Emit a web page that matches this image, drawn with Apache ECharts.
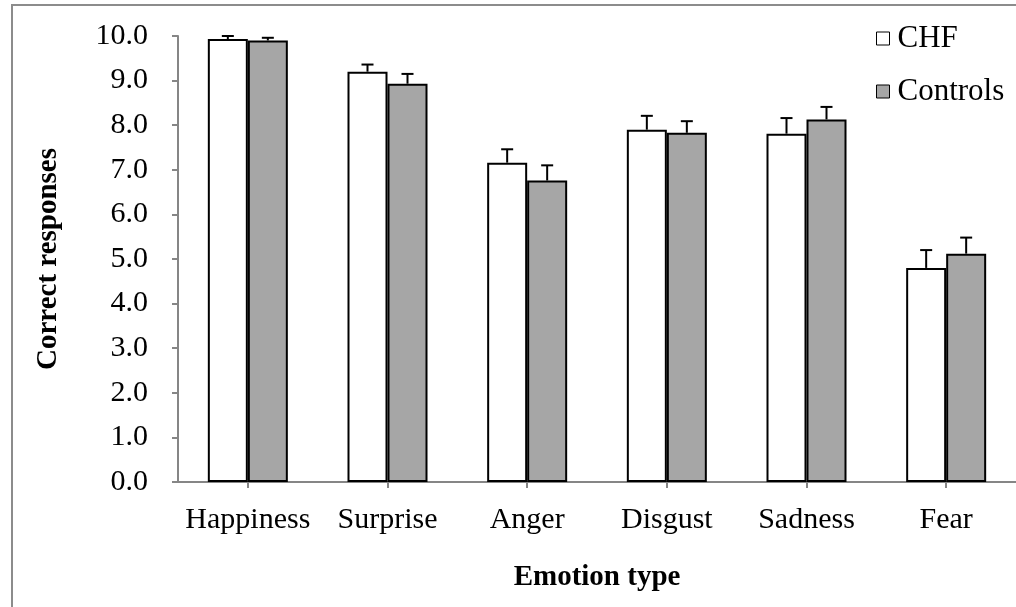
<!DOCTYPE html>
<html>
<head>
<meta charset="utf-8">
<script src="https://cdn.jsdelivr.net/npm/echarts@6/dist/echarts.min.js"></script>
<style>
html,body{margin:0;padding:0;background:#fff;}
#chart{width:1016px;height:607px;}
</style>
</head>
<body>
<div id="chart"></div>
<script>
var categories = ['Happiness', 'Surprise', 'Anger', 'Disgust', 'Sadness', 'Fear'];
var chfValues = [9.93, 9.20, 7.16, 7.90, 7.81, 4.80];
var chfErrors = [0.07, 0.16, 0.30, 0.31, 0.35, 0.40];
var controlValues = [9.90, 8.93, 6.76, 7.83, 8.13, 5.12];
var controlErrors = [0.06, 0.22, 0.34, 0.26, 0.28, 0.36];
var yTicks = [0, 1, 2, 3, 4, 5, 6, 7, 8, 9, 10];

var FONT = '"Liberation Serif", "Times New Roman", serif';
var BAR_W = 40;

function errorSeries(name, values, errors, side) {
  var data = values.map(function (v, i) { return [i, v, v + errors[i]]; });
  return {
    type: 'custom',
    name: name + ' err',
    z: 10,
    silent: true,
    renderItem: function (params, api) {
      var i = api.value(0);
      var base = api.coord([i, api.value(1)]);
      var top = api.coord([i, api.value(2)]);
      var x = base[0] + side * BAR_W / 2;
      var cap = 6;
      return {
        type: 'group',
        children: [
          { type: 'line', shape: { x1: x, y1: base[1], x2: x, y2: top[1] }, style: { stroke: '#000', lineWidth: 2 } },
          { type: 'line', shape: { x1: x - cap, y1: top[1], x2: x + cap, y2: top[1] }, style: { stroke: '#000', lineWidth: 2 } }
        ]
      };
    },
    encode: { x: 0, y: [1, 2] },
    data: data
  };
}

var chart = echarts.init(document.getElementById('chart'), null, { renderer: 'canvas' });
chart.setOption({
  animation: false,
  backgroundColor: '#fff',
  graphic: [{
    type: 'rect',
    shape: { x: 12, y: 5, width: 1030, height: 640 },
    style: { fill: 'none', stroke: '#8c8c8c', lineWidth: 2 },
    silent: true
  }],
  grid: { left: 178, top: 36, width: 840, height: 446, containLabel: false },
  legend: {
    orient: 'vertical',
    left: 871,
    top: 18,
    itemWidth: 13,
    itemHeight: 13,
    itemGap: 22,
    textStyle: { fontFamily: FONT, fontSize: 31, color: '#000', padding: [0, 0, 0, 3] },
    data: [
      { name: 'CHF', icon: 'rect', itemStyle: { color: '#fff', borderColor: '#000', borderWidth: 1 } },
      { name: 'Controls', icon: 'rect', itemStyle: { color: '#a6a6a6', borderColor: '#000', borderWidth: 1 } }
    ]
  },
  xAxis: {
    type: 'category',
    data: categories,
    axisLine: { lineStyle: { color: '#868686', width: 2 } },
    axisTick: { show: true, alignWithLabel: true, length: 6, lineStyle: { color: '#868686', width: 2 } },
    axisLabel: { fontFamily: FONT, fontSize: 30, color: '#000', margin: 23, interval: 0 },
    name: 'Emotion type',
    nameLocation: 'middle',
    nameGap: 81,
    nameTextStyle: { fontFamily: FONT, fontSize: 29, fontWeight: 'bold', color: '#000' }
  },
  yAxis: {
    type: 'value',
    min: 0,
    max: 10,
    interval: 1,
    axisLine: { show: true, lineStyle: { color: '#868686', width: 2 } },
    axisTick: { show: true, length: 6, lineStyle: { color: '#868686', width: 2 } },
    splitLine: { show: false },
    axisLabel: {
      fontFamily: FONT, fontSize: 30, color: '#000', margin: 30,
      formatter: function (v) { return yTicks.indexOf(v) >= 0 ? v.toFixed(1) : ''; }
    },
    name: 'Correct responses',
    nameLocation: 'middle',
    nameGap: 115,
    nameTextStyle: { fontFamily: FONT, fontSize: 29, fontWeight: 'bold', color: '#000' }
  },
  series: [
    {
      name: 'CHF', type: 'bar', barWidth: BAR_W, barGap: '0%',
      itemStyle: { color: '#fff', borderColor: '#000', borderWidth: 2 },
      data: chfValues
    },
    {
      name: 'Controls', type: 'bar', barWidth: BAR_W, barGap: '0%',
      itemStyle: { color: '#a6a6a6', borderColor: '#000', borderWidth: 2 },
      data: controlValues
    },
    errorSeries('CHF', chfValues, chfErrors, -1),
    errorSeries('Controls', controlValues, controlErrors, 1)
  ]
});
</script>
</body>
</html>
